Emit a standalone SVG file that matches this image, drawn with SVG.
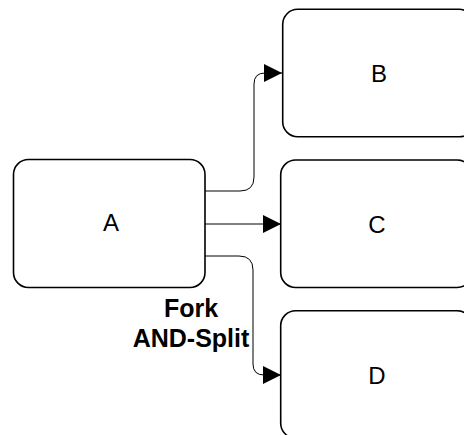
<svg xmlns="http://www.w3.org/2000/svg" width="464" height="435" viewBox="0 0 464 435">
<style>
.box{fill:#fff;stroke:#000;stroke-width:1.6}
.lbl{font-family:"Liberation Sans",Arial,sans-serif;font-size:24px;fill:#000;text-anchor:middle;dominant-baseline:central}
.edge{fill:none;stroke:#000;stroke-width:1}
.note{font-family:"Liberation Sans",Arial,sans-serif;font-size:25px;font-weight:bold;fill:#000;text-anchor:middle}
</style>
<defs>
<marker id="arr" viewBox="0 0 18 18" refX="18" refY="9" markerWidth="18" markerHeight="18" markerUnits="userSpaceOnUse" orient="auto">
<path d="M0,0 L18,9 L0,18 Z" fill="#000"/>
</marker>
</defs>
<rect width="464" height="435" fill="#fff"/>
<g id="connectors">
<path class="edge" d="M205,191 H240 Q254,191 254,177 V84 Q254,73 265,73 H282" marker-end="url(#arr)"/>
<path class="edge" d="M205,224 H281" marker-end="url(#arr)"/>
<path class="edge" d="M205,256 H239 Q253,256 253,270 V364 Q253,375 264,375 H281" marker-end="url(#arr)"/>
</g>
<g id="node-A">
<rect class="box" x="13.5" y="159.5" width="191.5" height="128" rx="15"/>
<text class="lbl" x="111" y="222">A</text>
</g>
<g id="node-B">
<rect class="box" x="282.7" y="9.3" width="191.5" height="127.5" rx="15"/>
<text class="lbl" x="379" y="73">B</text>
</g>
<g id="node-C">
<rect class="box" x="280.7" y="160" width="191.5" height="127.5" rx="15"/>
<text class="lbl" x="377" y="224">C</text>
</g>
<g id="node-D">
<rect class="box" x="280.7" y="310.7" width="191.5" height="127.5" rx="15"/>
<text class="lbl" x="377" y="375">D</text>
</g>
<g id="label">
<text class="note" x="191" y="317">Fork</text>
<text class="note" x="191" y="347">AND-Split</text>
</g>
</svg>
